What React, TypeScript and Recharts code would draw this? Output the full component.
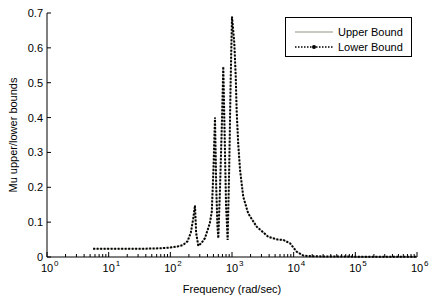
import { LineChart, Line, XAxis, YAxis, Legend, Label } from "recharts";

// frequency (rad/sec) and mu bounds
const FREQ = [
  5.6, 10, 20, 40, 70, 100, 130, 160, 190, 215, 235, 251, 262, 284, 320, 364,
  437, 470, 500, 530, 555, 580, 600, 640, 690, 722, 760, 800, 850, 900, 950,
  1000, 1090, 1150, 1190, 1260, 1350, 1520, 1830, 2510, 3880, 5500, 6800, 8740,
  11200, 14400, 20000, 100000, 1000000,
];
const LOWER = [
  0.024, 0.024, 0.024, 0.024, 0.025, 0.027, 0.03, 0.034, 0.045, 0.07, 0.11,
  0.148, 0.07, 0.032, 0.04, 0.054, 0.097, 0.13, 0.25, 0.4, 0.2, 0.09, 0.054,
  0.2, 0.4, 0.546, 0.35, 0.15, 0.049, 0.25, 0.5, 0.69, 0.613, 0.517, 0.42,
  0.326, 0.25, 0.173, 0.125, 0.087, 0.058, 0.05, 0.049, 0.039, 0.015, 0.004,
  0.002, 0.001, 0.001,
];
const UPPER = LOWER.slice();

const X_MAJOR = [1, 10, 100, 1000, 10000, 100000, 1000000];
const X_TICKS: number[] = [];
X_MAJOR.forEach((d, i) => {
  X_TICKS.push(d);
  if (i < X_MAJOR.length - 1) for (let m = 2; m <= 9; m++) X_TICKS.push(m * d);
});
const Y_TICKS = [0, 0.1, 0.2, 0.3, 0.4, 0.5, 0.6, 0.7];

const data = FREQ.map((f, i) => ({ f, upper: UPPER[i], lower: LOWER[i] }));

const FONT = "'Liberation Sans', Arial, sans-serif";

const isMajor = (v: number) => Math.abs(Math.log10(v) - Math.round(Math.log10(v))) < 1e-9;

function BottomTick({ x, y, payload }: any) {
  const v = payload.value;
  const major = isMajor(v);
  return (
    <g>
      <line x1={x} x2={x} y1={y} y2={y - (major ? 5 : 3)} stroke="#000" />
      {major && (
        <>
          <text x={x} y={y + 15} fontSize={11} textAnchor="middle" fill="#000" fontFamily={FONT}>
            10
          </text>
          <text x={x + 7} y={y + 9} fontSize={8} fill="#000" fontFamily={FONT}>
            {Math.round(Math.log10(v))}
          </text>
        </>
      )}
    </g>
  );
}

function TopTick({ x, y, payload }: any) {
  const major = isMajor(payload.value);
  return <line x1={x} x2={x} y1={y} y2={y + (major ? 5 : 3)} stroke="#000" />;
}

function LeftTick({ x, y, payload }: any) {
  return (
    <g>
      <line x1={x} x2={x + 4} y1={y} y2={y} stroke="#000" />
      <text x={x - 4} y={y + 4} fontSize={11} textAnchor="end" fill="#000" fontFamily={FONT}>
        {String(payload.value)}
      </text>
    </g>
  );
}

function RightTick({ x, y }: any) {
  return <line x1={x} x2={x - 4} y1={y} y2={y} stroke="#000" />;
}

function LegendBox() {
  return (
    <div
      style={{
        width: 127,
        height: 40,
        border: "1px solid #000",
        background: "#fff",
        boxSizing: "border-box",
      }}
    >
      <svg width={125} height={38} style={{ display: "block" }}>
        <line x1={9} x2={47} y1={14} y2={14} stroke="#c8c8c0" strokeWidth={2} />
        <text x={52} y={18} fontSize={11} fontFamily={FONT} fill="#000">
          Upper Bound
        </text>
        <line x1={9} x2={47} y1={29} y2={29} stroke="#000" strokeWidth={1.5} strokeDasharray="1.5 1.5" />
        <circle cx={28} cy={29} r={2} fill="#000" />
        <text x={52} y={33} fontSize={11} fontFamily={FONT} fill="#000">
          Lower Bound
        </text>
      </svg>
    </div>
  );
}

export default function App() {
  return (
    <div style={{ position: "absolute", left: 0, top: 0, background: "#fff", fontFamily: FONT }}>
      <LineChart
        width={431}
        height={298}
        data={data}
        margin={{ top: 13, right: 14, bottom: 0, left: 0 }}
      >
        <XAxis
          dataKey="f"
          type="number"
          scale="log"
          domain={[1, 1000000]}
          ticks={X_TICKS}
          interval={0}
          tickSize={0}
          tickMargin={0}
          tickLine={false}
          tick={BottomTick}
          height={41}
          axisLine={{ stroke: "#000" }}
        >
          <Label
            value="Frequency  (rad/sec)"
            position="insideBottom"
            offset={5}
            style={{ fontSize: 11, fill: "#000", fontFamily: FONT }}
          />
        </XAxis>
        <XAxis
          xAxisId="top"
          orientation="top"
          dataKey="f"
          type="number"
          scale="log"
          domain={[1, 1000000]}
          ticks={X_TICKS}
          interval={0}
          tickSize={0}
          tickMargin={0}
          tickLine={false}
          tick={TopTick}
          height={0}
          axisLine={{ stroke: "#000" }}
        />
        <YAxis
          type="number"
          domain={[0, 0.7]}
          ticks={Y_TICKS}
          interval={0}
          tickSize={0}
          tickMargin={0}
          tickLine={false}
          tick={LeftTick}
          width={47}
          axisLine={{ stroke: "#000" }}
        >
          <Label
            value="Mu upper/lower bounds"
            angle={-90}
            position="insideLeft"
            offset={13}
            style={{ textAnchor: "middle", fontSize: 11, fill: "#000", fontFamily: FONT }}
          />
        </YAxis>
        <YAxis
          yAxisId="right"
          orientation="right"
          type="number"
          domain={[0, 0.7]}
          ticks={Y_TICKS}
          interval={0}
          tickSize={0}
          tickMargin={0}
          tickLine={false}
          tick={RightTick}
          width={0}
          axisLine={{ stroke: "#000" }}
        />
        <Legend
          layout="vertical"
          align="center"
          verticalAlign="middle"
          content={LegendBox}
          wrapperStyle={{ left: 285, top: 17, width: 127, height: 40 }}
        />
        <Line
          type="linear"
          dataKey="upper"
          name="Upper Bound"
          stroke="#c8c8c0"
          strokeWidth={1.5}
          dot={false}
          isAnimationActive={false}
        />
        <Line
          type="linear"
          dataKey="lower"
          name="Lower Bound"
          stroke="#000"
          strokeWidth={2}
          strokeDasharray="2 1.5"
          dot={false}
          isAnimationActive={false}
        />
      </LineChart>
    </div>
  );
}
